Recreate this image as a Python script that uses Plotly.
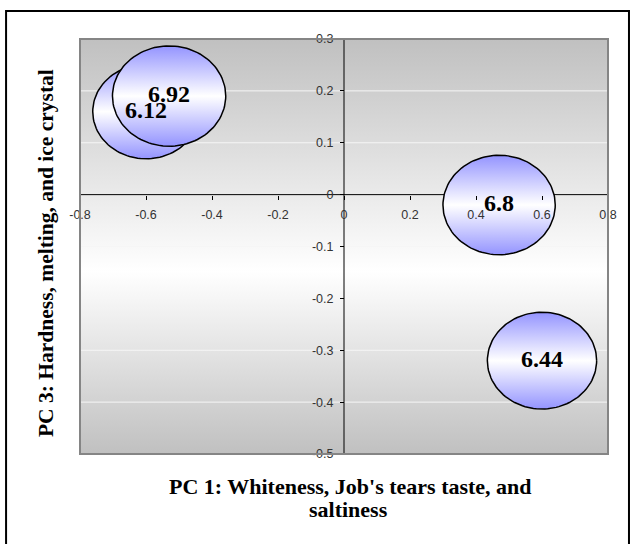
import numpy as np
import plotly.graph_objects as go

# ---- data -------------------------------------------------------------
sample_labels = ["6.12", "6.92", "6.8", "6.44"]
pc1_scores = [-0.60, -0.53, 0.47, 0.60]
pc3_scores = [0.16, 0.19, -0.02, -0.32]
bubble_sizes = [6.12, 6.92, 6.8, 6.44]

x_tick_vals = [-0.8, -0.6, -0.4, -0.2, 0, 0.2, 0.4, 0.6, 0.8]
x_tick_text = ["-0.8", "-0.6", "-0.4", "-0.2", "0", "0.2", "0.4", "0.6", "0.8"]
y_tick_vals = [0.3, 0.2, 0.1, 0, -0.1, -0.2, -0.3, -0.4, -0.5]
y_tick_text = ["0.3", "0.2", "0.1", "0", "-0.1", "-0.2", "-0.3", "-0.4", "-0.5"]

x_title = "PC 1: Whiteness, Job's tears taste, and"
x_title_2 = "saltiness"
y_title = "PC 3: Hardness, melting, and ice crystal"

# ---- geometry ---------------------------------------------------------
W, H = 631, 544
ML, MR, MT, MB = 80, 22.5, 39, 90
plot_w = W - ML - MR
plot_h = H - MT - MB
x_lo, x_hi = x_tick_vals[0], x_tick_vals[-1]
y_lo, y_hi = y_tick_vals[-1], y_tick_vals[0]
px_per_x = plot_w / (x_hi - x_lo)
px_per_y = plot_h / (y_hi - y_lo)

bubble_scale = 43.1      # pixel diameter per sqrt(size)
bubble_aspect = 0.885    # vertical squash of the bubbles


def px_to_paper_x(px):
    return (px - ML) / plot_w


def px_to_paper_y(py):
    return (H - MB - py) / plot_h


fig = go.Figure()

# plot-area gradient background (grey - white - grey)
fig.add_trace(go.Scatter(
    x=[x_lo, x_hi, x_hi, x_lo, x_lo],
    y=[y_hi, y_hi, y_lo, y_lo, y_hi],
    mode="lines", fill="toself", line=dict(width=0),
    fillgradient=dict(type="vertical",
                      colorscale=[[0, "#c0c0c0"], [0.44, "#ffffff"], [1, "#c0c0c0"]]),
    hoverinfo="skip", showlegend=False,
))

# horizontal gridlines
gx, gy = [], []
for v in y_tick_vals:
    gx += [x_lo, x_hi, None]
    gy += [v, v, None]
fig.add_trace(go.Scatter(x=gx, y=gy, mode="lines",
                         line=dict(color="#f6f6f6", width=1),
                         hoverinfo="skip", showlegend=False))

# axes crossing at the origin
fig.add_trace(go.Scatter(x=[x_lo, x_hi, None, 0, 0], y=[0, 0, None, y_lo, y_hi],
                         mode="lines", line=dict(color="black", width=1),
                         hoverinfo="skip", showlegend=False))

# bubbles as gradient-filled ellipses
theta = np.linspace(0, 2 * np.pi, 121)
for cx, cy, s in zip(pc1_scores, pc3_scores, bubble_sizes):
    d_px = bubble_scale * np.sqrt(s)
    rx = d_px / 2 / px_per_x
    ry = d_px * bubble_aspect / 2 / px_per_y
    fig.add_trace(go.Scatter(
        x=cx + rx * np.cos(theta), y=cy + ry * np.sin(theta),
        mode="lines", fill="toself",
        line=dict(color="black", width=1.5),
        fillgradient=dict(type="vertical",
                          colorscale=[[0, "#9494ff"], [0.5, "#ffffff"], [1, "#9494ff"]]),
        hoverinfo="skip", showlegend=False,
    ))

# bubble labels
fig.add_trace(go.Scatter(
    x=pc1_scores, y=pc3_scores, mode="text", text=sample_labels,
    textposition="middle center",
    textfont=dict(family="Liberation Serif", size=24, color="black", weight="bold"),
    hoverinfo="skip", showlegend=False,
))

tick_font = dict(family="Liberation Sans", size=12.5, color="#333333")

fig.update_layout(
    width=W, height=H,
    margin=dict(l=ML, r=MR, t=MT, b=MB, pad=0),
    paper_bgcolor="white", plot_bgcolor="white",
    showlegend=False,
    xaxis=dict(range=[x_lo, x_hi], tickmode="array", tickvals=x_tick_vals,
               ticktext=x_tick_text, showgrid=False, zeroline=False, showline=False,
               ticks="outside", ticklen=4, tickcolor="black", tickwidth=1,
               tickfont=tick_font, anchor="free",
               position=(0 - y_lo) / (y_hi - y_lo), layer="above traces",
               ticklabelstandoff=4, automargin=False, fixedrange=True),
    yaxis=dict(range=[y_lo, y_hi], tickmode="array", tickvals=y_tick_vals,
               ticktext=y_tick_text, showgrid=False, zeroline=False, showline=False,
               ticks="outside", ticklen=4, tickcolor="black", tickwidth=1,
               tickfont=tick_font, anchor="free",
               position=(0 - x_lo) / (x_hi - x_lo), layer="above traces",
               ticklabelstandoff=4, automargin=False, fixedrange=True),
    shapes=[
        # plot-area frame
        dict(type="rect", xref="paper", yref="paper", x0=0, x1=1, y0=0, y1=1,
             line=dict(color="#858585", width=2), layer="above"),
        # chart-area frame
        dict(type="rect", xref="paper", yref="paper",
             x0=px_to_paper_x(6), x1=px_to_paper_x(629.5),
             y0=px_to_paper_y(570), y1=px_to_paper_y(11),
             line=dict(color="black", width=2), layer="above"),
    ],
    annotations=[
        dict(text=x_title, xref="paper", yref="paper",
             x=px_to_paper_x(351), y=px_to_paper_y(486),
             xanchor="center", yanchor="middle", showarrow=False,
             font=dict(family="Liberation Serif", size=22, color="black", weight="bold")),
        dict(text=x_title_2, xref="paper", yref="paper",
             x=px_to_paper_x(349), y=px_to_paper_y(509),
             xanchor="center", yanchor="middle", showarrow=False,
             font=dict(family="Liberation Serif", size=22, color="black", weight="bold")),
        dict(text=y_title, xref="paper", yref="paper",
             x=px_to_paper_x(46), y=px_to_paper_y(253), textangle=-90,
             xanchor="center", yanchor="middle", showarrow=False,
             font=dict(family="Liberation Serif", size=21.5, color="black", weight="bold")),
    ],
)

fig.write_html("out.html")
